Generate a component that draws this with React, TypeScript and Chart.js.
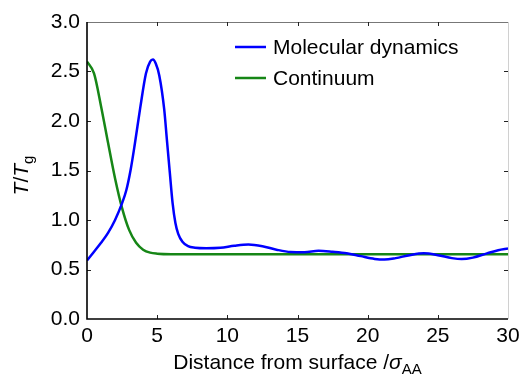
import React, { useEffect, useRef } from "react";
import { Chart, registerables } from "chart.js";

Chart.register(...registerables);

// ---- data ----
const mdX = [0, 0.5, 1.0, 1.5, 2.0, 2.5, 2.8, 3.1, 3.4, 3.8, 4.2, 4.5, 4.7, 4.9, 5.15, 5.5, 5.7, 5.9, 6.1, 6.3, 6.5, 6.8, 7.2, 7.7, 8.5, 9.5, 10.5, 11.5, 12.5, 13.5, 14.5, 15.5, 16.5, 17.5, 18.5, 19.5, 20.5, 21.2, 22.0, 23.0, 24.0, 25.0, 26.0, 26.7, 27.5, 28.5, 29.3, 30.0];
const mdY = [0.59, 0.68, 0.77, 0.87, 1.0, 1.17, 1.3, 1.5, 1.76, 2.14, 2.48, 2.6, 2.62, 2.58, 2.46, 2.12, 1.8, 1.48, 1.17, 0.97, 0.86, 0.78, 0.735, 0.72, 0.715, 0.72, 0.74, 0.752, 0.735, 0.70, 0.677, 0.675, 0.69, 0.68, 0.665, 0.635, 0.607, 0.6, 0.615, 0.645, 0.663, 0.645, 0.615, 0.605, 0.62, 0.663, 0.695, 0.712];

const contX = [0, 0.5, 1.0, 1.5, 2.0, 2.5, 3.0, 3.5, 4.0, 4.5, 5.0, 6.0, 10, 15, 20, 25, 30];
const contY = [2.6, 2.48, 2.15, 1.78, 1.42, 1.12, 0.9, 0.77, 0.7, 0.67, 0.66, 0.655, 0.655, 0.655, 0.655, 0.655, 0.655];

const seriesLabels = ["Molecular dynamics", "Continuum"];
const seriesColors = ["#0000ff", "#168616"];

const xTickValues = [0, 5, 10, 15, 20, 25, 30];
const yTickValues = [0, 0.5, 1.0, 1.5, 2.0, 2.5, 3.0];

const FONT = "'Liberation Sans', Arial, Helvetica, sans-serif";

const framePlugin = {
  id: "frame",
  afterDatasetsDraw(chart: any) {
    const { ctx, chartArea } = chart;
    const { left, right, top, bottom } = chartArea;
    const xs = chart.scales.x;
    const ys = chart.scales.y;
    ctx.save();
    ctx.lineWidth = 1;
    ctx.strokeStyle = "#777";
    ctx.beginPath();
    ctx.moveTo(left, top + 0.5);
    ctx.lineTo(right, top + 0.5);
    ctx.stroke();
    ctx.strokeStyle = "#d0d0d0";
    ctx.beginPath();
    ctx.moveTo(right + 0.5, top);
    ctx.lineTo(right + 0.5, bottom);
    ctx.stroke();
    ctx.strokeStyle = "#222";
    ctx.lineWidth = 1;
    xTickValues.slice(1, -1).forEach((v) => {
      const px = Math.round(xs.getPixelForValue(v)) + 0.5;
      ctx.beginPath();
      ctx.moveTo(px, bottom);
      ctx.lineTo(px, bottom - 4);
      ctx.moveTo(px, top);
      ctx.lineTo(px, top + 4);
      ctx.stroke();
    });
    yTickValues.slice(1, -1).forEach((v) => {
      const py = Math.round(ys.getPixelForValue(v)) + 0.5;
      ctx.beginPath();
      ctx.moveTo(left, py);
      ctx.lineTo(left + 4, py);
      ctx.moveTo(right, py);
      ctx.lineTo(right - 4, py);
      ctx.stroke();
    });
    ctx.strokeStyle = "#000";
    ctx.lineWidth = 1.6;
    ctx.beginPath();
    ctx.moveTo(left, top);
    ctx.lineTo(left, bottom);
    ctx.lineTo(right, bottom);
    ctx.stroke();
    ctx.restore();
  },
};

const annotationPlugin = {
  id: "annot",
  afterDraw(chart: any) {
    const { ctx, chartArea } = chart;
    ctx.save();
    const rows = [47, 78];
    chart.data.datasets.forEach((ds: any, i: number) => {
      const y = rows[i];
      ctx.strokeStyle = ds.borderColor;
      ctx.lineWidth = 2.5;
      ctx.beginPath();
      ctx.moveTo(235, y);
      ctx.lineTo(266, y);
      ctx.stroke();
      ctx.fillStyle = "#000";
      ctx.font = `21px ${FONT}`;
      ctx.textAlign = "left";
      ctx.textBaseline = "middle";
      ctx.fillText(ds.label, 273, y + 1);
    });

    const cx = (chartArea.left + chartArea.right) / 2;
    const base = 369;
    const part1 = "Distance from surface /";
    const part2 = "σ";
    const part3 = "AA";
    ctx.textBaseline = "alphabetic";
    ctx.textAlign = "left";
    ctx.font = `21px ${FONT}`;
    const w1 = ctx.measureText(part1).width;
    ctx.font = `italic 21px ${FONT}`;
    const w2 = ctx.measureText(part2).width;
    ctx.font = `15px ${FONT}`;
    const w3 = ctx.measureText(part3).width;
    const x0 = cx - (w1 + w2 + w3) / 2;
    ctx.fillStyle = "#000";
    ctx.font = `21px ${FONT}`;
    ctx.fillText(part1, x0, base);
    ctx.font = `italic 21px ${FONT}`;
    ctx.fillText(part2, x0 + w1, base);
    ctx.font = `15px ${FONT}`;
    ctx.fillText(part3, x0 + w1 + w2, base + 5);

    const cy = (chartArea.top + chartArea.bottom) / 2 + 5;
    ctx.save();
    ctx.translate(28, cy);
    ctx.rotate(-Math.PI / 2);
    const a = "T", b = "/", c = "T", d = "g";
    ctx.font = `italic 21px ${FONT}`;
    const wa = ctx.measureText(a).width;
    ctx.font = `21px ${FONT}`;
    const wb = ctx.measureText(b).width;
    ctx.font = `italic 21px ${FONT}`;
    const wc = ctx.measureText(c).width;
    ctx.font = `15px ${FONT}`;
    const wd = ctx.measureText(d).width;
    let sx = -(wa + wb + wc + wd) / 2;
    ctx.font = `italic 21px ${FONT}`;
    ctx.fillText(a, sx, 0);
    sx += wa;
    ctx.font = `21px ${FONT}`;
    ctx.fillText(b, sx, 0);
    sx += wb;
    ctx.font = `italic 21px ${FONT}`;
    ctx.fillText(c, sx, 0);
    sx += wc;
    ctx.font = `15px ${FONT}`;
    ctx.fillText(d, sx, 5);
    ctx.restore();

    ctx.restore();
  },
};

export default function App() {
  const ref = useRef<HTMLCanvasElement | null>(null);
  useEffect(() => {
    if (!ref.current) return;
    const chart = new Chart(ref.current, {
      type: "line",
      data: {
        datasets: [
          {
            label: seriesLabels[0],
            data: mdX.map((x, i) => ({ x, y: mdY[i] })),
            borderColor: seriesColors[0],
            borderWidth: 2.5,
            pointRadius: 0,
            cubicInterpolationMode: "monotone",
            fill: false,
          },
          {
            label: seriesLabels[1],
            data: contX.map((x, i) => ({ x, y: contY[i] })),
            borderColor: seriesColors[1],
            borderWidth: 2.5,
            pointRadius: 0,
            cubicInterpolationMode: "monotone",
            fill: false,
          },
        ],
      },
      options: {
        responsive: false,
        animation: false,
        events: [],
        layout: { padding: { top: 22, right: 12, left: 0, bottom: 0 } },
        plugins: { legend: { display: false }, tooltip: { enabled: false } },
        scales: {
          x: {
            type: "linear",
            min: 0,
            max: 30,
            afterBuildTicks: (s: any) => {
              s.ticks = xTickValues.map((v) => ({ value: v }));
            },
            afterFit: (s: any) => {
              s.height = 57;
              s.paddingLeft = 0;
              s.paddingRight = 0;
            },
            grid: { display: false, drawTicks: false },
            border: { display: false },
            ticks: {
              color: "#000",
              font: { family: FONT, size: 21 },
              padding: 5,
              maxRotation: 0,
              callback: (v: any) => String(v),
            },
          },
          y: {
            type: "linear",
            min: 0,
            max: 3,
            afterBuildTicks: (s: any) => {
              s.ticks = yTickValues.map((v) => ({ value: v }));
            },
            afterFit: (s: any) => {
              s.width = 87;
              s.paddingTop = 0;
              s.paddingBottom = 0;
            },
            grid: { display: false, drawTicks: false },
            border: { display: false },
            ticks: {
              color: "#000",
              font: { family: FONT, size: 21 },
              padding: 7,
              callback: (v: any) => Number(v).toFixed(1),
            },
          },
        },
      },
      plugins: [framePlugin, annotationPlugin],
    } as any);
    return () => chart.destroy();
  }, []);
  return (
    <div style={{ position: "fixed", left: 0, top: 0, width: 520, height: 376, background: "#fff" }}>
      <canvas ref={ref} width={520} height={376} style={{ display: "block" }} />
    </div>
  );
}
